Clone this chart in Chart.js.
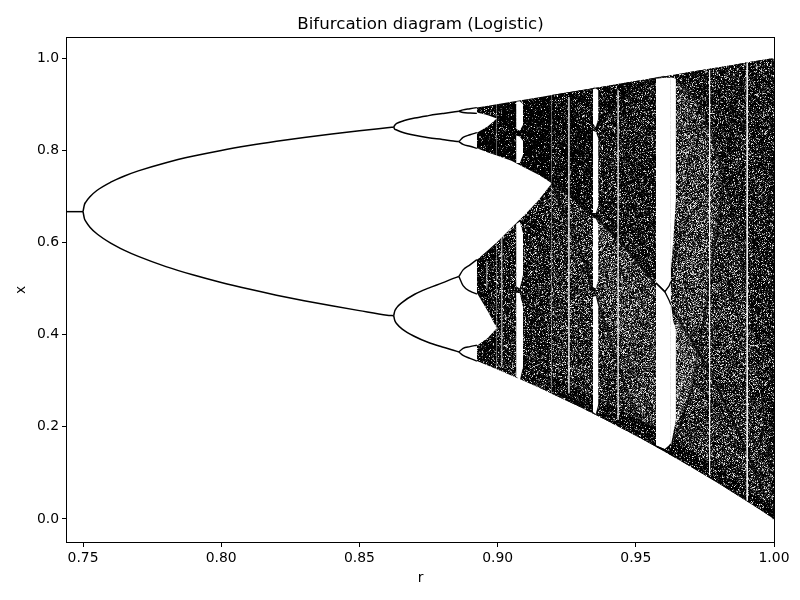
<!DOCTYPE html>
<html><head><meta charset="utf-8">
<style>html,body{margin:0;padding:0;background:#fff}canvas{display:block}</style>
<script src="https://cdn.jsdelivr.net/npm/chart.js@4/dist/chart.umd.min.js"></script>
</head><body><canvas id="c" width="800" height="600"></canvas>
<script>
// ---- values ----
const xTicks=[0.75,0.80,0.85,0.90,0.95,1.00];
const yTicks=[0,0.2,0.4,0.6,0.8,1.0];
// single stable branch and the two-cycle
const rP1=[0.7442,0.75], xP1=[0.6667,0.6667];
const rP2=[0.75,0.7505,0.751,0.7525,0.755,0.76,0.765,0.77,0.78,0.79,0.80,0.81,0.82,0.83,0.84,0.85,0.86,0.8624];
const p2Hi=[0.6667,0.6818,0.6875,0.699,0.7126,0.7306,0.7441,0.7551,0.773,0.7873,0.7995,0.81,0.8193,0.8277,0.8352,0.8422,0.8485,0.85];
const p2Lo=[0.6667,0.6516,0.6454,0.633,0.6187,0.5984,0.5827,0.5696,0.5475,0.5291,0.513,0.4987,0.4856,0.4735,0.4624,0.452,0.4422,0.441];
// four-cycle
const rP4=[0.8624,0.8628,0.8635,0.8655,0.87,0.875,0.88,0.884,0.886];
const p4A=[0.85,0.8543,0.858,0.863,0.8697,0.875,0.8795,0.883,0.8845];
const p4B=[0.85,0.8457,0.8438,0.8391,0.8323,0.8269,0.8233,0.82,0.8187];
const p4C=[0.441,0.4515,0.4585,0.47,0.4875,0.5009,0.5121,0.522,0.5261];
const p4D=[0.441,0.4305,0.4236,0.412,0.3959,0.3828,0.3731,0.366,0.3624];
// eight-cycle
const rP8=[0.886,0.8875,0.89,0.8925];
const p8A=[0.8845,0.8875,0.89,0.8925], p8B=[0.8845,0.8817,0.8807,0.88];
const p8C=[0.8187,0.8278,0.8335,0.838], p8D=[0.8187,0.8127,0.8085,0.804];
const p8E=[0.5261,0.5405,0.5513,0.5626], p8F=[0.5261,0.506,0.4943,0.488];
const p8G=[0.3624,0.3703,0.374,0.377], p8H=[0.3624,0.3548,0.3486,0.3425];
// chaotic bands left of the final merge
const rL=[0.8925,0.8965,0.8997,0.905,0.91,0.915,0.9196];
const topL=[0.8925,0.8965,0.8997,0.905,0.91,0.915,0.9196];
const c3L=[0.804,0.795,0.7885,0.777,0.7616,0.746,0.7285];
const c4L=[0.5626,0.583,0.6004,0.632,0.6609,0.693,0.7285];
const c2L=[0.3425,0.3328,0.3247,0.3112,0.2981,0.2847,0.2719];
const rGap=[0.8925,0.8965,0.8997];
const gap1=[0.882,0.876,0.869], gap2=[0.838,0.852,0.869], gap3=[0.49,0.45,0.4136], gap4=[0.376,0.393,0.4136];
// single band and its dark curves
const rR=[0.9196,0.925,0.93,0.935,0.94,0.945,0.95,0.955,0.96,0.965,0.97,0.975,0.98,0.985,0.99,0.995,1];
const topR=[0.9196,0.925,0.93,0.935,0.94,0.945,0.95,0.955,0.96,0.965,0.97,0.975,0.98,0.985,0.99,0.995,1];
const c2=[0.2719,0.2567,0.2422,0.2273,0.2121,0.1965,0.1805,0.1642,0.1475,0.1304,0.1129,0.0951,0.0768,0.0582,0.0392,0.0198,0];
const c3=[0.7285,0.706,0.6827,0.6569,0.6284,0.5968,0.5621,0.5243,0.4829,0.4377,0.3885,0.3356,0.2779,0.216,0.1492,0.0772,0];
const c4=[0.7285,0.768,0.8058,0.8429,0.878,0.9096,0.9353,0.9527,0.9589,0.95,0.9218,0.8696,0.7866,0.6672,0.5027,0.2835,0];
const c5=[0.7285,0.6592,0.5821,0.4952,0.4028,0.3108,0.2299,0.1721,0.1513,0.1833,0.2797,0.4423,0.658,0.8749,0.99,0.8085,0];
const c6=[0.7285,0.8312,0.9049,0.9349,0.9045,0.8097,0.6728,0.5443,0.4931,0.5779,0.7817,0.962];
const edge=[0.31,0.295,0.28,0.265,0.25,0.235,0.22,0.205,0.19,0.17,0.15,0.13,0.11,0.09,0.07,0.045,0.02];
const rWedge=[0.9645,0.967,0.97,0.973], wedgeHi=[0.44,0.42,0.3885,0.353], wedgeLo=[0.2,0.235,0.28,0.353];
const rUpperLight=[0.9645,0.97,0.975,0.98], upperLightHi=[0.945,0.9218,0.8696,0.7866], upperLightLo=[0.44,0.3885,0.4423,0.658];
// periodic windows
const rW1=[0.9067,0.908,0.9092];
const w1a=[0.905,0.906,0.9], w1b=[0.846,0.842,0.855], w1c=[0.832,0.83,0.82], w1d=[0.772,0.772,0.79];
const w1e=[0.64,0.645,0.62], w1f=[0.505,0.5,0.53], w1g=[0.49,0.49,0.46], w1h=[0.31,0.3,0.33];
const rW2=[0.9345,0.9355,0.9365];
const w2a=[0.932,0.934,0.93], w2b=[0.858,0.85,0.87], w2c=[0.842,0.84,0.825], w2d=[0.664,0.664,0.68];
const w2e=[0.653,0.652,0.64], w2f=[0.503,0.5,0.52], w2g=[0.482,0.484,0.46], w2h=[0.232,0.228,0.25];
const rW3=[0.9573,0.9605,0.9627];
const w3top=[0.955,0.957,0.957], w3bot=[0.158,0.15,0.162];
const rW3b=[0.9627,0.9635,0.9645];
const w3c=[0.957,0.957,0.955], w3d=[0.54,0.6,0.69], w3e=[0.47,0.43,0.41], w3f=[0.16,0.185,0.215];
const rMid=[0.9573,0.9605,0.962,0.9627], midHi=[0.512,0.493,0.505,0.515], midLo=[0.512,0.493,0.475,0.465];
const rBot=[0.9573,0.9605,0.962,0.9627], botHi=[0.158,0.15,0.158,0.163], botLo=[0.158,0.15,0.143,0.14];
// narrow windows: r, top, bottom, strength
const thinR=[0.8961,0.9015,0.9258,0.9436,0.9767,0.9903];
const thinTop=[0.56,0.62,0.915,0.93,0.974,0.99];
const thinBot=[0.5,0.33,0.273,0.215,0.095,0.04];
const thinA=[0.3,0.35,0.6,0.55,0.75,0.8];

// ---- grey speckle textures used as fill styles ----
function speckle(k,seed){
  const n=251, t=document.createElement('canvas'); t.width=t.height=n;
  const g=t.getContext('2d'), im=g.createImageData(n,n); let s=seed>>>0;
  for(let i=0;i<n*n;i++){
    s=(Math.imul(s,1664525)+1013904223)>>>0;
    const v=Math.round(255*Math.pow(((s>>>14)&4095)/4095,k));
    im.data[i*4]=im.data[i*4+1]=im.data[i*4+2]=v; im.data[i*4+3]=255;
  }
  g.putImageData(im,0,0);
  return document.getElementById('c').getContext('2d').createPattern(t,'repeat');
}
const D04=speckle(14,11),D08=speckle(8,23),D14=speckle(5,37),D22=speckle(3.4,41),D30=speckle(2.4,53),D42=speckle(1.5,67);

// ---- layers in paint order ----
const layers=[];
const pts=(xs,ys)=>xs.map((x,i)=>({x,y:ys[i]}));
function band(xs,hi,lo,fillStyle){
  layers.push([
    {data:pts(xs,hi),fill:'+1',backgroundColor:fillStyle,borderWidth:0,pointRadius:0},
    {data:pts(xs,lo),fill:false,borderWidth:0,pointRadius:0}
  ]);
}
function line(xs,ys,color,w,smooth){
  layers.push([{data:pts(xs,ys),fill:false,borderColor:color,borderWidth:w,pointRadius:0,
    cubicInterpolationMode:smooth?'monotone':'default',tension:0}]);
}
const S=(a,i,j)=>a.slice(i,j);
// four narrow bands, then two
band(rGap,S(topL,0,3),gap1,D04);
band(rGap,gap2,S(c3L,0,3),D04);
band(rGap,S(c4L,0,3),gap3,D08);
band(rGap,gap4,S(c2L,0,3),D08);
band(S(rL,2),S(topL,2),S(c3L,2),D04);
band(S(rL,2),S(c4L,2),S(c2L,2),D14);
// one band
band(rR,topR,c2,D22);
band(S(rR,0,4),S(topR,0,4),S(c3,0,4),D08);
band(S(rR,3,9),S(topR,3,9),S(c4,3,9),D08);
band(S(rR,3,9),S(c4,3,9),S(c3,3,9),D14);
band(S(rR,3,9),S(c3,3,9),S(c5,3,9),D30);
band(S(rR,8),S(topR,8),S(c4,8),D14);
band(rUpperLight,upperLightHi,upperLightLo,D30);
band(rWedge,wedgeHi,wedgeLo,D42);
band(rR,edge,c2,D08);
// dark curves
line(rR,c3,'rgba(0,0,0,.7)',2.5);
line(S(rR,0,15),S(c4,0,15),'rgba(0,0,0,.5)',2.5);
line(S(rR,0,15),S(c5,0,15),'rgba(0,0,0,.55)',2.5);
line(S(rR,0,12),c6,'rgba(0,0,0,.35)',2);
// windows
for(const [a,b] of [[w1a,w1b],[w1c,w1d],[w1e,w1f],[w1g,w1h]]) band(rW1,a,b,'#fff');
for(const [a,b] of [[w2a,w2b],[w2c,w2d],[w2e,w2f],[w2g,w2h]]) band(rW2,a,b,'#fff');
band(rW3,w3top,w3bot,'#fff');
band(rW3b,w3c,w3d,'#fff');
band(rW3b,w3e,w3f,'#fff');
thinR.forEach((r,i)=>line([r,r],[thinTop[i],thinBot[i]],`rgba(255,255,255,${thinA[i]})`,1));
// stable cycles
const K='#000';
line(rP1,xP1,K,1.5);
line(rP2,p2Hi,K,1.5,true); line(rP2,p2Lo,K,1.5,true);
for(const a of [p4A,p4B,p4C,p4D]) line(rP4,a,K,1.5,true);
for(const a of [p8A,p8B,p8C,p8D,p8E,p8F,p8G,p8H]) line(rP8,a,K,1.4,true);
line(rMid,midHi,K,1.3); line(rMid,midLo,K,1.3);
line(rBot,botHi,K,1.3); line(rBot,botLo,K,1.3);

const datasets=layers.slice().reverse().flat();
const font={family:'"DejaVu Sans"',size:13.9};
Chart.defaults.font.family='"DejaVu Sans"';
new Chart(document.getElementById('c'),{
  type:'line',
  data:{datasets},
  plugins:[{id:'frame',afterDatasetsDraw(ch){
    const a=ch.chartArea,g=ch.ctx;g.save();g.strokeStyle='#000';g.lineWidth=1;
    const l=Math.round(a.left)-.5,t=Math.round(a.top)-.5,r=Math.round(a.right)+.5,b=Math.round(a.bottom)+.5;
    g.strokeRect(l,t,r-l,b-t);g.restore();
  }}],
  options:{
    responsive:false,animation:false,
    layout:{padding:{right:26,left:0,top:0,bottom:0}},
    plugins:{
      legend:{display:false},tooltip:{enabled:false},
      title:{display:true,text:'Bifurcation diagram (Logistic)',color:'#000',fullSize:false,
        font:{family:'"DejaVu Sans"',size:16.67,weight:'normal'},padding:{top:15,bottom:3}}
    },
    scales:{
      x:{type:'linear',min:0.7442,max:1.0,
        afterBuildTicks(s){s.ticks=xTicks.map(v=>({value:v}));},
        afterFit(s){s.height=58;},
        ticks:{color:'#000',font,padding:3,maxRotation:0,autoSkip:false,callback:v=>Number(v).toFixed(2)},
        grid:{drawOnChartArea:false,drawTicks:true,tickLength:5,color:'#000'},
        border:{display:false},
        title:{display:true,text:'r',color:'#000',font,padding:{top:0,bottom:13}}},
      y:{type:'linear',min:-0.0499,max:1.0434,
        afterBuildTicks(s){s.ticks=yTicks.map(v=>({value:v}));},
        afterFit(s){s.width=67;},
        ticks:{color:'#000',font,padding:3,autoSkip:false,callback:v=>Number(v).toFixed(1)},
        grid:{drawOnChartArea:false,drawTicks:true,tickLength:5,color:'#000'},
        border:{display:false},
        title:{display:true,text:'x',color:'#000',font,padding:{top:13,bottom:0}}}
    }
  }
});
</script></body></html>
